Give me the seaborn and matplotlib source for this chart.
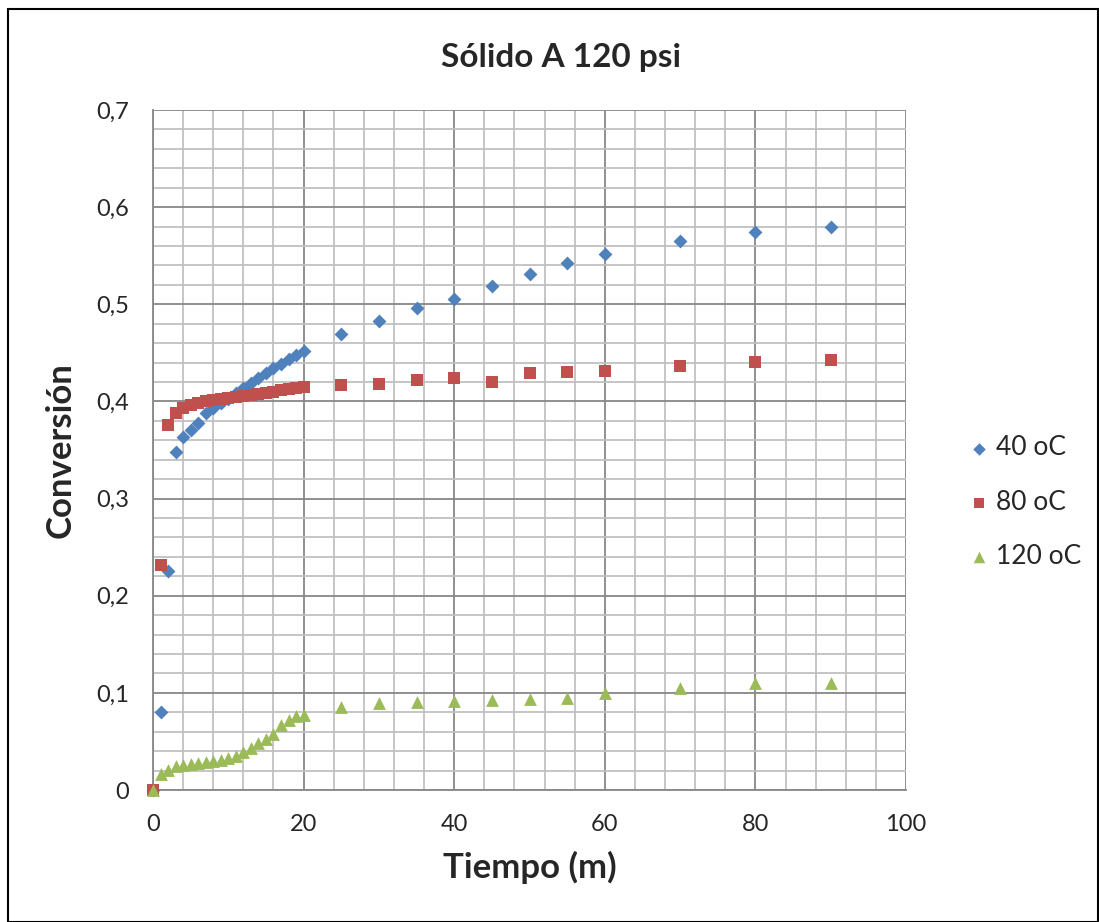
import matplotlib
matplotlib.use("Agg")
import matplotlib.pyplot as plt
import seaborn as sns
import pandas as pd
from matplotlib.patches import Rectangle
from matplotlib.ticker import MultipleLocator

# ---- data ----
tiempo_40 = [0, 1, 2, 3, 4, 5, 6, 7, 8, 9, 10, 11, 12, 13, 14, 15, 16, 17, 18, 19, 20,
             25, 30, 35, 40, 45, 50, 55, 60, 70, 80, 90]
conv_40 = [0.0, 0.080, 0.225, 0.348, 0.363, 0.371, 0.378, 0.388, 0.393, 0.398, 0.403,
           0.409, 0.414, 0.419, 0.424, 0.429, 0.434, 0.439, 0.444, 0.448, 0.452,
           0.469, 0.483, 0.496, 0.505, 0.519, 0.531, 0.543, 0.552, 0.565, 0.574, 0.580]

tiempo_80 = tiempo_40
conv_80 = [0.0, 0.232, 0.376, 0.388, 0.393, 0.396, 0.398, 0.400, 0.401, 0.402, 0.404,
           0.405, 0.406, 0.407, 0.408, 0.409, 0.410, 0.412, 0.413, 0.414, 0.415,
           0.417, 0.418, 0.422, 0.424, 0.420, 0.429, 0.430, 0.431, 0.436, 0.441, 0.443]

tiempo_120 = tiempo_40
conv_120 = [0.0, 0.016, 0.021, 0.025, 0.026, 0.027, 0.028, 0.029, 0.030, 0.031, 0.033,
            0.035, 0.039, 0.043, 0.048, 0.053, 0.058, 0.067, 0.072, 0.076, 0.077,
            0.085, 0.090, 0.091, 0.092, 0.093, 0.094, 0.095, 0.0995, 0.105, 0.110, 0.1105]

series_names = ["40 oC", "80 oC", "120 oC"]
series_colors = ["#4F81BD", "#C0504D", "#9BBB59"]
series_markers = ["D", "s", "^"]
series_sizes = [50, 72, 85]

x_ticks = [0, 20, 40, 60, 80, 100]
x_tick_labels = ["0", "20", "40", "60", "80", "100"]
y_ticks = [0.0, 0.1, 0.2, 0.3, 0.4, 0.5, 0.6, 0.7]
y_tick_labels = ["0", "0,1", "0,2", "0,3", "0,4", "0,5", "0,6", "0,7"]

title = "Sólido A 120 psi"
x_label = "Tiempo (m)"
y_label = "Conversión"

# ---- style ----
sns.set_style("white")
plt.rcParams["font.family"] = ["Lato", "DejaVu Sans"]

fig = plt.figure(figsize=(10.99, 9.22), dpi=100)
ax = fig.add_axes([153 / 1099, 1 - 790 / 922, (906 - 153) / 1099, (790 - 110) / 922])

frames = []
for name, t, c in zip(series_names, [tiempo_40, tiempo_80, tiempo_120], [conv_40, conv_80, conv_120]):
    frames.append(pd.DataFrame({"Tiempo": t, "Conversion": c, "Serie": name}))
df = pd.concat(frames, ignore_index=True)

for name, col, mk, sz in zip(series_names, series_colors, series_markers, series_sizes):
    sub = df[df["Serie"] == name]
    sns.scatterplot(data=sub, x="Tiempo", y="Conversion", ax=ax, color=col, marker=mk,
                    s=sz, linewidth=0, label=name, zorder=3, clip_on=False)

ax.set_xlim(0, 100)
ax.set_ylim(0, 0.7)

# grid
ax.xaxis.set_minor_locator(MultipleLocator(4))
ax.yaxis.set_minor_locator(MultipleLocator(0.02))
ax.grid(which="minor", color="#C0C0C0", linewidth=1.3, zorder=0)
ax.grid(which="major", color="#878787", linewidth=1.3, zorder=0)
ax.set_axisbelow(True)

ax.set_xticks(x_ticks)
ax.set_xticklabels(x_tick_labels)
ax.set_yticks(y_ticks)
ax.set_yticklabels(y_tick_labels)
ax.tick_params(axis="both", which="major", direction="out", length=7, width=1.3,
               color="#878787", labelsize=17, pad=10)
ax.tick_params(axis="both", which="minor", length=0)

for side in ["left", "bottom"]:
    ax.spines[side].set_color("#878787")
    ax.spines[side].set_linewidth(1.3)
for side in ["right", "top"]:
    ax.spines[side].set_visible(False)

ax.set_xlabel(x_label, fontsize=25, fontweight="bold", labelpad=12)
ax.set_ylabel(y_label, fontsize=25, fontweight="bold", labelpad=14)
ax.set_title(title, fontsize=24, fontweight="bold", pad=31, x=(561 - 153) / 753)

leg = ax.legend(loc="center left", bbox_to_anchor=(1.048, 0.4235), frameon=False,
                fontsize=19, handlelength=1.0, handletextpad=0.15, labelspacing=1.1,
                markerscale=0.9)

# outer border
fig.patches.append(Rectangle((8 / 1099, 0.0), 1 - 8 / 1099 - 0.001, 1 - 9 / 922,
                             transform=fig.transFigure, fill=False, edgecolor="black",
                             linewidth=1.5))

fig.savefig("out.png", dpi=100)
